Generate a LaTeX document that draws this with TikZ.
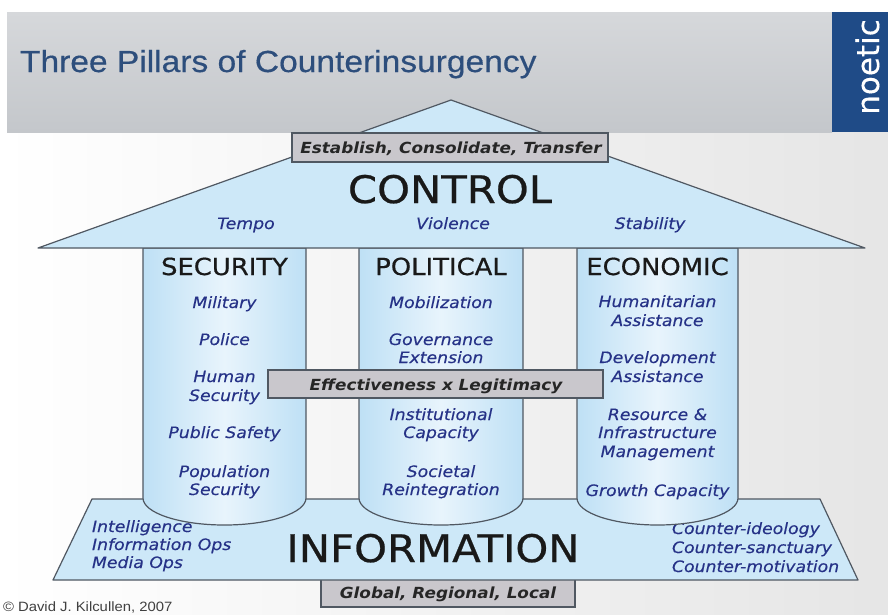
\documentclass[tikz,border=0pt]{standalone}
\usepackage{fontspec}
\setmainfont{DejaVu Sans}
\newfontfamily\dv[FakeStretch=1.1, FakeBold=0.3, ItalicFont={DejaVu Sans Oblique}, BoldFont={DejaVu Sans Bold}, BoldItalicFont={DejaVu Sans Bold Oblique}]{DejaVu Sans}
\newfontfamily\dvbi[FakeStretch=1.1]{DejaVu Sans Bold Oblique}
\newfontfamily\dvh[FakeStretch=1.1, FakeBold=0.6]{DejaVu Sans}
\newfontfamily\lib[FakeStretch=1.1, FakeBold=0.5]{Liberation Sans}
\newfontfamily\libc[FakeStretch=1.1]{Liberation Sans}
\newfontfamily\dvn[FakeBold=0.3]{DejaVu Sans}
\definecolor{roofblue}{RGB}{205,232,248}
\definecolor{pilblue}{RGB}{190,224,245}
\definecolor{pillight}{RGB}{232,244,252}
\definecolor{edgecol}{RGB}{80,88,98}
\definecolor{boxgray}{RGB}{201,199,204}
\definecolor{itemblue}{RGB}{38,50,135}
\definecolor{titleblue}{RGB}{45,78,124}
\definecolor{noeticblue}{RGB}{31,75,135}
\definecolor{headtop}{RGB}{214,216,219}
\definecolor{headbot}{RGB}{196,199,203}
\begin{document}
\begin{tikzpicture}[x=1pt,y=-1pt, inner sep=0pt, outer sep=0pt,
  item/.style={font=\dv\itshape\fontsize{15.7}{18}\selectfont, text=itemblue, anchor=base},
  head/.style={font=\dvh\fontsize{23.5}{26}\selectfont, text=black!90, anchor=base},
  big/.style={font=\dvh\fontsize{38}{42}\selectfont, text=black!90, anchor=base},
  tag/.style={font=\dvbi\fontsize{15.3}{18}\selectfont, text=black!85, anchor=base},
  graybox/.style={draw=edgecol, fill=boxgray, line width=1.2pt},
  blueshape/.style={draw=edgecol, fill=roofblue, line width=1.2pt, line join=round},
  pillar/.style={draw=edgecol, line width=1.2pt, left color=pilblue, right color=pilblue, middle color=pillight}
]
\useasboundingbox (0,0) rectangle (888,614);
% background
\fill[white] (0,0) rectangle (888,614);
\shade[left color=white, right color=black!10] (0,132) rectangle (888,614);
\shade[top color=headtop, bottom color=headbot] (7,12) rectangle (832,132);
\fill[noeticblue] (832,12) rectangle (888,132);
\node[font=\dvn\fontsize{31}{34}\selectfont, text=white, rotate=90, anchor=base] (noetic) at (879,67) {noetic};
\node[font=\lib\fontsize{30.5}{34}\selectfont, text=titleblue, anchor=base west] (title) at (20,72) {Three Pillars of Counterinsurgency};
\node[font=\libc\fontsize{13.5}{15}\selectfont, text=black!75, anchor=base west] (copy) at (3,611) {© David J. Kilcullen, 2007};
% foundation
\draw[graybox] (321,578) rectangle (575,607);
\node[tag] (glob) at (448,598) {Global, Regional, Local};
\draw[blueshape] (92,499) -- (820,499) -- (858,580) -- (53,580) -- cycle;
\node[big] (info) at (433,562) {INFORMATION};
\foreach \t/\y [count=\i] in {Intelligence/532, Information Ops/550, Media Ops/568}
  \node[item, anchor=base west] (fl\i) at (92,\y) {\t};
\foreach \t/\y [count=\i] in {Counter-ideology/534, Counter-sanctuary/553, Counter-motivation/572}
  \node[item, anchor=base west] (fr\i) at (672,\y) {\t};
% pillars
\foreach \l/\r in {143/306, 359/523, 577/738}{
  \pgfmathsetmacro\cx{(\l+\r)/2}
  \pgfmathsetmacro\ka{\l+(\r-\l)/2*0.4477}
  \pgfmathsetmacro\kb{\r-(\r-\l)/2*0.4477}
  \draw[pillar] (\l,248) -- (\l,498) .. controls (\l,512.9) and (\ka,525) .. (\cx,525)
     .. controls (\kb,525) and (\r,512.9) .. (\r,498) -- (\r,248) -- cycle;
}
\node[head] (sech) at (224.5,275) {SECURITY};
\node[head] (polh) at (441,275) {POLITICAL};
\node[head] (ecoh) at (657.5,275) {ECONOMIC};
\foreach \t/\y [count=\i] in {Military/308, Police/345, Human/382, Security/401, Public Safety/438, Population/477, Security/495}
  \node[item] (sec\i) at (224.5,\y) {\t};
\foreach \t/\y [count=\i] in {Mobilization/308, Governance/345, Extension/363, Institutional/420, Capacity/438, Societal/477, Reintegration/495}
  \node[item] (pol\i) at (441,\y) {\t};
\foreach \t/\y [count=\i] in {Humanitarian/307, Assistance/326, Development/363, Assistance/382, Resource \&/420, Infrastructure/438, Management/457, Growth Capacity/496}
  \node[item] (eco\i) at (657.5,\y) {\t};
\draw[graybox] (268,370) rectangle (603,398);
\node[tag] (eff) at (436,390) {Effectiveness x Legitimacy};
% roof
\draw[blueshape] (451,100) -- (865,248) -- (38,248) -- cycle;
\draw[graybox] (292,133) rectangle (608,162);
\node[tag] (est) at (451,153) {Establish, Consolidate, Transfer};
\node[big] (ctrl) at (450,203) {CONTROL};
\node[item] (tempo) at (246,229) {Tempo};
\node[item] (viol) at (453,229) {Violence};
\node[item] (stab) at (650,229) {Stability};
\end{tikzpicture}
\end{document}
